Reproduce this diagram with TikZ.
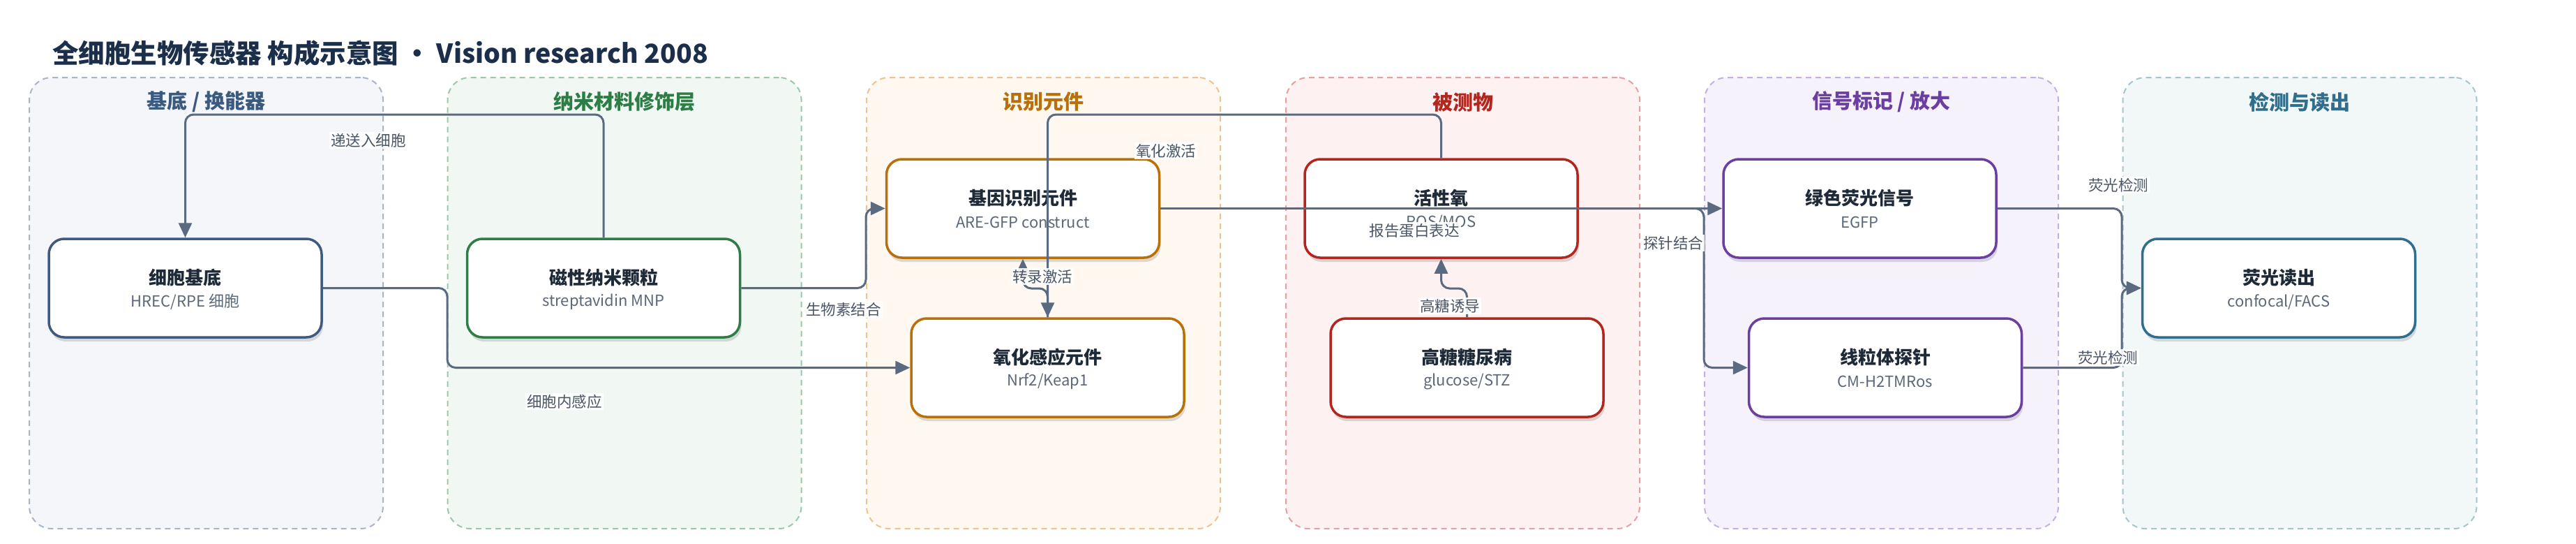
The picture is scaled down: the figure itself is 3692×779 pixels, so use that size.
\documentclass[tikz,border=0pt]{standalone}
\usepackage{fontspec}
\setmainfont{Noto Sans CJK SC}
\usetikzlibrary{arrows.meta,shadows}
\definecolor{titlec}{HTML}{1B2F4B}
\definecolor{ntitle}{HTML}{1E2A38}
\definecolor{nsub}{HTML}{5C6878}
\definecolor{edgec}{HTML}{5A6A80}
\definecolor{labc}{HTML}{4A5565}
\definecolor{pAfill}{HTML}{F4F6FA}\definecolor{pAline}{HTML}{A8B5C8}\definecolor{pAtext}{HTML}{3A5A80}
\definecolor{pBfill}{HTML}{F1F8F3}\definecolor{pBline}{HTML}{9DC8A8}\definecolor{pBtext}{HTML}{2E7D46}
\definecolor{pCfill}{HTML}{FEF8F0}\definecolor{pCline}{HTML}{EDC490}\definecolor{pCtext}{HTML}{B8700A}
\definecolor{pDfill}{HTML}{FDF2F1}\definecolor{pDline}{HTML}{E6A0A0}\definecolor{pDtext}{HTML}{B3261E}
\definecolor{pEfill}{HTML}{F6F2FC}\definecolor{pEline}{HTML}{C6B0E3}\definecolor{pEtext}{HTML}{6B3FA0}
\definecolor{pFfill}{HTML}{F2F7F8}\definecolor{pFline}{HTML}{A6C4CE}\definecolor{pFtext}{HTML}{2F6E8C}
\definecolor{nA}{HTML}{3D5A80}
\definecolor{nB}{HTML}{2E7D46}
\definecolor{nC}{HTML}{B8700A}
\definecolor{nD}{HTML}{B3261E}
\definecolor{nE}{HTML}{6B3FA0}
\definecolor{nF}{HTML}{2F6E8C}
\tikzset{
  panel/.style={draw=#1, dashed, dash pattern=on 8pt off 6pt, line width=2pt, rounded corners=32pt,
    minimum width=507pt, minimum height=646pt, inner sep=0pt},
  ptitle/.style={text=#1, font=\fontsize{29}{33}\selectfont\bfseries, inner sep=0pt},
  box/.style={draw=#1, line width=3.5pt, rounded corners=22pt, fill=white,
    minimum width=391pt, minimum height=141pt, inner sep=0pt,
    drop shadow={shadow xshift=2pt, shadow yshift=-6pt, opacity=0.13, fill=black}},
  ntt/.style={text=ntitle, font=\fontsize{26}{30}\selectfont\bfseries, inner sep=0pt},
  nst/.style={text=nsub, font=\fontsize{22}{26}\selectfont, inner sep=0pt},
  edge/.style={draw=edgec, line width=3pt, rounded corners=12pt, -{Triangle[length=21pt,width=19pt]}},
  elabel/.style={fill=white, fill opacity=0.9, text opacity=1, text=labc,
    font=\fontsize{21.5}{24}\selectfont, inner sep=2pt},
}
\newcommand\bnode[6]{%
  \node[box=#4] (#1) at (#2,#3) {};
  \node[ntt] (#1-t) at ([yshift=15pt]#1.center) {#5};
  \node[nst] (#1-s) at ([yshift=-20pt]#1.center) {#6};
}
\begin{document}
\begin{tikzpicture}[x=1pt,y=-1pt]
\useasboundingbox (0,0) rectangle (3692,779);
\fill[white] (0,0) rectangle (3692,779);
% title
\node[anchor=west, text=titlec, font=\fontsize{37.5}{42}\selectfont\bfseries, inner sep=0pt] (title) at (75,76)
  {全细胞生物传感器 构成示意图 • Vision research 2008};
% panels
\node[panel=pAline, fill=pAfill] (PA) at (295.5,434) {};
\node[panel=pBline, fill=pBfill] (PB) at (895,434) {};
\node[panel=pCline, fill=pCfill] (PC) at (1495.5,434) {};
\node[panel=pDline, fill=pDfill] (PD) at (2096.5,434) {};
\node[panel=pEline, fill=pEfill] (PE) at (2696.5,434) {};
\node[panel=pFline, fill=pFfill] (PF) at (3296,434) {};
\node[ptitle=pAtext] (PAt) at (295.5,146) {基底 / 换能器};
\node[ptitle=pBtext] (PBt) at (895,146) {纳米材料修饰层};
\node[ptitle=pCtext] (PCt) at (1495.5,146) {识别元件};
\node[ptitle=pDtext] (PDt) at (2096.5,146) {被测物};
\node[ptitle=pEtext] (PEt) at (2696.5,146) {信号标记 / 放大};
\node[ptitle=pFtext] (PFt) at (3296,146) {检测与读出};
% nodes
\bnode{sub}{265.5}{412.5}{nA}{细胞基底}{HREC/RPE 细胞}
\bnode{mnp}{865}{412.5}{nB}{磁性纳米颗粒}{streptavidin MNP}
\bnode{gene}{1466}{298.5}{nC}{基因识别元件}{ARE-GFP construct}
\bnode{oxs}{1501.5}{526.5}{nC}{氧化感应元件}{Nrf2/Keap1}
\bnode{ros}{2065.5}{298.5}{nD}{活性氧}{ROS/MOS}
\bnode{dm}{2102.5}{526.5}{nD}{高糖糖尿病}{glucose/STZ}
\bnode{gfp}{2665.5}{298.5}{nE}{绿色荧光信号}{EGFP}
\bnode{mito}{2702}{526.5}{nE}{线粒体探针}{CM-H2TMRos}
\bnode{read}{3266}{412.5}{nF}{荧光读出}{confocal/FACS}
% helper coordinates
\coordinate (top) at (0,164);
\coordinate (m5) at (0,413);
\coordinate (c2) at (641,470);
\coordinate (c3) at (1241,350);
\coordinate (c8) at (2442,400);
\coordinate (c9) at (3041,350);
\coordinate (c10) at (3041,470);
% edges
\draw[edge] (mnp.north) -- (mnp.north |- top) -| (sub.north);
\draw[edge] (sub.east) -| (c2) |- (oxs.west);
\draw[edge] (mnp.east) -| (c3) |- (gene.west);
\draw[edge] (ros.north) -- (ros.north |- top) -| (oxs.north);
\draw[edge] (oxs.north) -- (oxs.north |- m5) -- (gene.south |- m5) -- (gene.south);
\draw[edge] (gene.east) -- (gfp.west);
\draw[edge] (dm.north) -- (dm.north |- m5) -- (ros.south |- m5) -- (ros.south);
\draw[edge] (ros.east) -| (c8) |- (mito.west);
\draw[edge] (gfp.east) -| (c9) |- (read.west);
\draw[edge] (mito.east) -| (c10) |- (read.west);
% labels
\node[elabel] (l1) at (528,201) {递送入细胞};
\node[elabel] (l2) at (809,575) {细胞内感应};
\node[elabel] (l3) at (1209,443) {生物素结合};
\node[elabel] (l4) at (1671,216) {氧化激活};
\node[elabel] (l5) at (1494,396) {转录激活};
\node[elabel] (l6) at (2027,330) {报告蛋白表达};
\node[elabel] (l7) at (2078,438) {高糖诱导};
\node[elabel] (l8) at (2398,348) {探针结合};
\node[elabel] (l9) at (3036,265) {荧光检测};
\node[elabel] (l10) at (3021,512) {荧光检测};
\end{tikzpicture}
\end{document}
